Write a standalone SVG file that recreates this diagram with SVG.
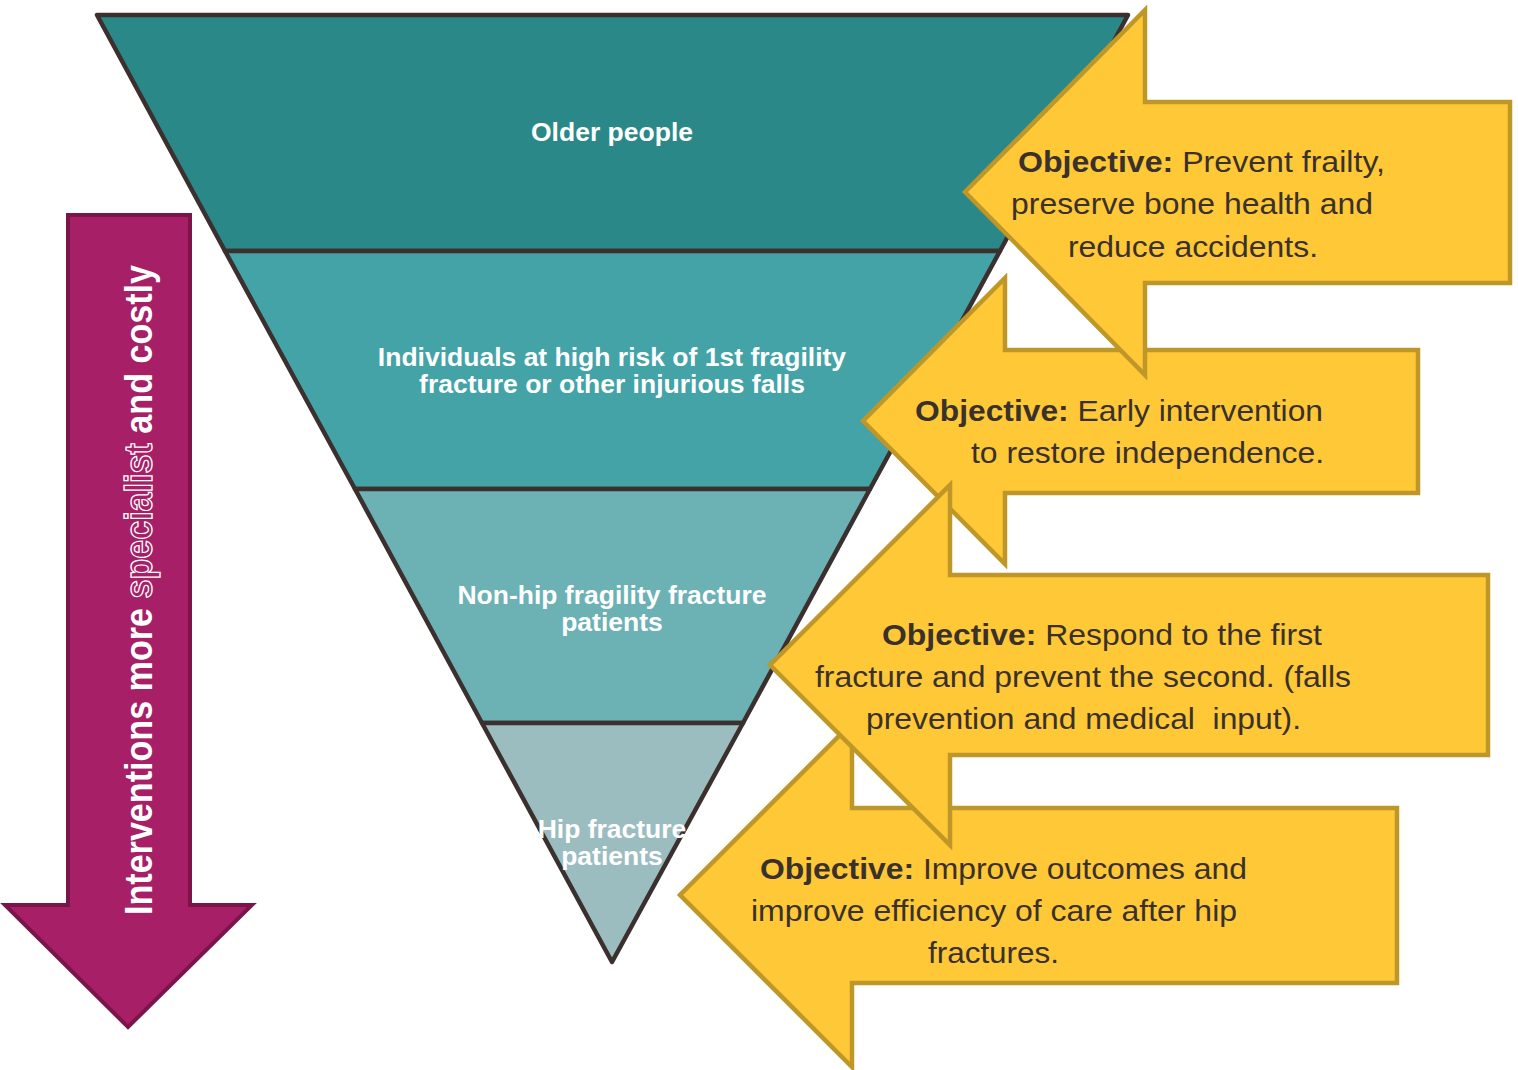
<svg xmlns="http://www.w3.org/2000/svg" width="1518" height="1070" viewBox="0 0 1518 1070">
<style>
.band{stroke:#3b302e;stroke-width:4.5;stroke-linejoin:round}
.lbl{font-family:"Liberation Sans",Arial,sans-serif;font-weight:bold;font-size:26.5px;fill:#ffffff;text-anchor:middle}
.yarrow{fill:#fec836;stroke:#bf9628;stroke-width:4.5;stroke-linejoin:miter}
.obj{font-family:"Liberation Sans",Arial,sans-serif;font-size:30px;fill:#3a302c;white-space:pre}
.b{font-weight:bold}
.parrow{fill:#a61f67;stroke:#7b1549;stroke-width:4}
.ptxt{font-family:"Liberation Sans",Arial,sans-serif;font-weight:bold;font-size:39px;fill:#ffffff}
.outl{fill:#a61f67;stroke:#ffffff;stroke-width:1.3}
</style>
<rect width="1518" height="1070" fill="#ffffff"/>
<g id="pyramid">
<g id="band-older">
<polygon class="band" fill="#2b8888" points="97,15 1128,15 1000,251 225,251"/>
<text class="lbl" x="612" y="141">Older people</text>
</g>
<g id="band-highrisk">
<polygon class="band" fill="#43a3a7" points="225,251 1000,251 870,489 355,489"/>
<text class="lbl" x="612" y="366">Individuals at high risk of 1st fragility</text>
<text class="lbl" x="612" y="393">fracture or other injurious falls</text>
</g>
<g id="band-nonhip">
<polygon class="band" fill="#6cb1b4" points="355,489 870,489 743,723 482,723"/>
<text class="lbl" x="612" y="604">Non-hip fragility fracture</text>
<text class="lbl" x="612" y="631">patients</text>
</g>
<g id="band-hip">
<polygon class="band" fill="#9bbdbf" points="482,723 743,723 612,962"/>
<text class="lbl" x="612" y="838">Hip fracture</text>
<text class="lbl" x="612" y="865">patients</text>
</g>
</g>
<g id="cost-arrow">
<path class="parrow" d="M68,215 H190 V905 H252 L128,1027 L5,905 H68 Z"/>
<text class="ptxt" transform="translate(152,915) rotate(-90)" x="0" y="0" textLength="650" lengthAdjust="spacingAndGlyphs">Interventions more <tspan class="outl">specialist</tspan> and costly</text>
</g>
<g id="objective-4">
<path class="yarrow" d="M1397,808 H852 V723 L680,895 L852,1067 V983 H1397 Z"/>
<text class="obj" x="760" y="879" textLength="487" lengthAdjust="spacingAndGlyphs"><tspan class="b">Objective:</tspan> Improve outcomes and</text>
<text class="obj" x="751" y="921" textLength="486" lengthAdjust="spacingAndGlyphs">improve efficiency of care after hip</text>
<text class="obj" x="928" y="963" textLength="131" lengthAdjust="spacingAndGlyphs">fractures.</text>
</g>
<g id="objective-2">
<path class="yarrow" d="M1418,350 H1005 V278 L863,421 L1005,564 V493 H1418 Z"/>
<text class="obj" x="915" y="421" textLength="408" lengthAdjust="spacingAndGlyphs"><tspan class="b">Objective:</tspan> Early intervention</text>
<text class="obj" x="971" y="463" textLength="353" lengthAdjust="spacingAndGlyphs">to restore independence.</text>
</g>
<g id="objective-3">
<path class="yarrow" d="M1488,575 H950 V485 L770,665 L950,845 V755 H1488 Z"/>
<text class="obj" x="882" y="645" textLength="440" lengthAdjust="spacingAndGlyphs"><tspan class="b">Objective:</tspan> Respond to the first</text>
<text class="obj" x="815" y="687" textLength="536" lengthAdjust="spacingAndGlyphs">fracture and prevent the second. (falls</text>
<text class="obj" x="866" y="729" textLength="435" lengthAdjust="spacingAndGlyphs">prevention and medical  input).</text>
</g>
<g id="objective-1">
<path class="yarrow" d="M1510,102 H1145 V10 L965,192 L1145,375 V283 H1510 Z"/>
<text class="obj" x="1018" y="172" textLength="367" lengthAdjust="spacingAndGlyphs"><tspan class="b">Objective:</tspan> Prevent frailty,</text>
<text class="obj" x="1011" y="214" textLength="362" lengthAdjust="spacingAndGlyphs">preserve bone health and</text>
<text class="obj" x="1068" y="257" textLength="250" lengthAdjust="spacingAndGlyphs">reduce accidents.</text>
</g>
<g id="connectors"/>
</svg>
